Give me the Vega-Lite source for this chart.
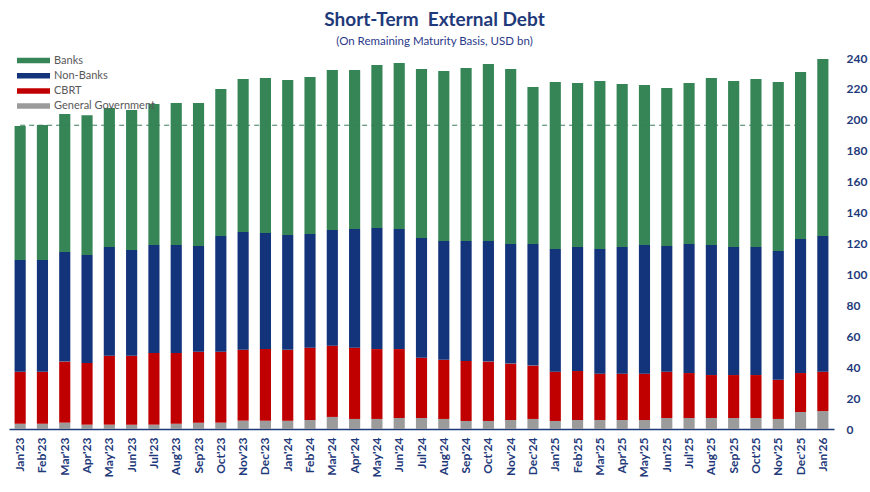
{
  "$schema": "https://vega.github.io/schema/vega-lite/v6.json",
  "autosize": {"type": "none"},
  "padding": {"left": 9, "top": 58, "right": 36, "bottom": 63},
  "width": 825,
  "height": 371,
  "background": "white",
  "title": {
    "text": "Short-Term\u00a0 External Debt",
    "subtitle": "(On Remaining Maturity Basis, USD bn)",
    "anchor": "middle",
    "frame": "group",
    "dx": 13,
    "offset": 5,
    "font": "Lato",
    "fontSize": 19,
    "fontWeight": "bold",
    "color": "#1F3A7A",
    "subtitleFont": "Lato",
    "subtitleFontSize": 11.5,
    "subtitleColor": "#2B3A8A",
    "subtitlePadding": 6
  },
  "config": {
    "view": {"stroke": null},
    "font": "Lato",
    "axisX": {
      "title": null,
      "labelAngle": -90,
      "labelFont": "Lato",
      "labelFontSize": 12,
      "labelFontWeight": "bold",
      "labelColor": "#1F3A7A",
      "labelPadding": 8,
      "labelOverlap": false,
      "ticks": false,
      "domainColor": "#1F3A7A",
      "domainWidth": 1.5
    },
    "axisY": {
      "title": null,
      "grid": false,
      "domain": false,
      "ticks": false,
      "labelOverlap": false,
      "labelFont": "Lato",
      "labelFontSize": 12,
      "labelFontWeight": "bold",
      "labelColor": "#1F3A7A",
      "labelPadding": 12,
      "labelAlign": "left"
    }
  },
  "layer": [
    {
      "data": {
        "values": [
          {"month": "Jan'23", "Banks": 86.7, "Non-Banks": 72.2, "CBRT": 33.7, "General Government": 3.4},
          {"month": "Feb'23", "Banks": 87.3, "Non-Banks": 72.2, "CBRT": 33.7, "General Government": 3.4},
          {"month": "Mar'23", "Banks": 89.2, "Non-Banks": 70.9, "CBRT": 39.5, "General Government": 4.1},
          {"month": "Apr'23", "Banks": 90.5, "Non-Banks": 69.8, "CBRT": 39.9, "General Government": 2.8},
          {"month": "May'23", "Banks": 89.9, "Non-Banks": 70.3, "CBRT": 44.6, "General Government": 2.8},
          {"month": "Jun'23", "Banks": 90.5, "Non-Banks": 68.4, "CBRT": 44.6, "General Government": 2.8},
          {"month": "Jul'23", "Banks": 91.2, "Non-Banks": 69.8, "CBRT": 46.4, "General Government": 2.8},
          {"month": "Aug'23", "Banks": 91.9, "Non-Banks": 69.8, "CBRT": 45.8, "General Government": 3.4},
          {"month": "Sep'23", "Banks": 92.5, "Non-Banks": 68.4, "CBRT": 45.9, "General Government": 4.1},
          {"month": "Oct'23", "Banks": 95.1, "Non-Banks": 74.8, "CBRT": 45.9, "General Government": 4.1},
          {"month": "Nov'23", "Banks": 99.0, "Non-Banks": 76.1, "CBRT": 45.9, "General Government": 5.4},
          {"month": "Dec'23", "Banks": 100.2, "Non-Banks": 75.1, "CBRT": 46.3, "General Government": 5.4},
          {"month": "Jan'24", "Banks": 100.2, "Non-Banks": 74.3, "CBRT": 45.9, "General Government": 5.3},
          {"month": "Feb'24", "Banks": 101.6, "Non-Banks": 73.5, "CBRT": 46.8, "General Government": 5.8},
          {"month": "Mar'24", "Banks": 103.5, "Non-Banks": 74.8, "CBRT": 46.1, "General Government": 7.8},
          {"month": "Apr'24", "Banks": 102.8, "Non-Banks": 76.8, "CBRT": 46.1, "General Government": 6.5},
          {"month": "May'24", "Banks": 105.4, "Non-Banks": 78.3, "CBRT": 45.2, "General Government": 6.5},
          {"month": "Jun'24", "Banks": 107.3, "Non-Banks": 77.7, "CBRT": 44.6, "General Government": 7.1},
          {"month": "Jul'24", "Banks": 109.4, "Non-Banks": 77.4, "CBRT": 39.0, "General Government": 7.1},
          {"month": "Aug'24", "Banks": 110.0, "Non-Banks": 76.8, "CBRT": 38.3, "General Government": 6.5},
          {"month": "Sep'24", "Banks": 111.9, "Non-Banks": 77.6, "CBRT": 38.8, "General Government": 5.2},
          {"month": "Oct'24", "Banks": 114.5, "Non-Banks": 78.0, "CBRT": 38.4, "General Government": 5.2},
          {"month": "Nov'24", "Banks": 113.2, "Non-Banks": 77.4, "CBRT": 36.5, "General Government": 5.8},
          {"month": "Dec'24", "Banks": 101.5, "Non-Banks": 78.7, "CBRT": 34.5, "General Government": 6.5},
          {"month": "Jan'25", "Banks": 108.0, "Non-Banks": 79.3, "CBRT": 31.9, "General Government": 5.2},
          {"month": "Feb'25", "Banks": 106.1, "Non-Banks": 80.2, "CBRT": 31.7, "General Government": 5.8},
          {"month": "Mar'25", "Banks": 108.7, "Non-Banks": 80.6, "CBRT": 30.0, "General Government": 5.8},
          {"month": "Apr'25", "Banks": 105.5, "Non-Banks": 81.9, "CBRT": 30.0, "General Government": 5.8},
          {"month": "May'25", "Banks": 103.5, "Non-Banks": 83.2, "CBRT": 30.0, "General Government": 5.8},
          {"month": "Jun'25", "Banks": 102.2, "Non-Banks": 81.3, "CBRT": 30.0, "General Government": 7.1},
          {"month": "Jul'25", "Banks": 104.1, "Non-Banks": 83.5, "CBRT": 29.1, "General Government": 7.1},
          {"month": "Aug'25", "Banks": 108.0, "Non-Banks": 84.1, "CBRT": 27.8, "General Government": 7.1},
          {"month": "Sep'25", "Banks": 107.4, "Non-Banks": 82.8, "CBRT": 27.8, "General Government": 7.1},
          {"month": "Oct'25", "Banks": 108.7, "Non-Banks": 82.8, "CBRT": 27.8, "General Government": 7.1},
          {"month": "Nov'25", "Banks": 109.3, "Non-Banks": 83.2, "CBRT": 25.4, "General Government": 6.5},
          {"month": "Dec'25", "Banks": 108.0, "Non-Banks": 86.7, "CBRT": 25.2, "General Government": 11.0},
          {"month": "Jan'26", "Banks": 114.5, "Non-Banks": 87.7, "CBRT": 25.5, "General Government": 11.6}
        ]
      },
      "transform": [
        {"fold": ["General Government", "CBRT", "Non-Banks", "Banks"], "as": ["series", "value"]},
        {"window": [{"op": "row_number", "as": "stackOrder"}], "groupby": ["month"]}
      ],
      "mark": {"type": "bar"},
      "encoding": {
        "x": {
          "field": "month",
          "type": "ordinal",
          "sort": null,
          "scale": {
            "domain": ["Jan'23", "Feb'23", "Mar'23", "Apr'23", "May'23", "Jun'23", "Jul'23", "Aug'23", "Sep'23", "Oct'23", "Nov'23", "Dec'23", "Jan'24", "Feb'24", "Mar'24", "Apr'24", "May'24", "Jun'24", "Jul'24", "Aug'24", "Sep'24", "Oct'24", "Nov'24", "Dec'24", "Jan'25", "Feb'25", "Mar'25", "Apr'25", "May'25", "Jun'25", "Jul'25", "Aug'25", "Sep'25", "Oct'25", "Nov'25", "Dec'25", "Jan'26"],
            "paddingInner": 0.5,
            "paddingOuter": 0.25
          }
        },
        "y": {
          "field": "value",
          "type": "quantitative",
          "stack": "zero",
          "scale": {"domain": [0, 240], "nice": false},
          "axis": {
            "orient": "right",
            "values": [0, 20, 40, 60, 80, 100, 120, 140, 160, 180, 200, 220, 240]
          }
        },
        "color": {
          "field": "series",
          "type": "nominal",
          "scale": {
            "domain": ["Banks", "Non-Banks", "CBRT", "General Government"],
            "range": ["#358556", "#13347A", "#C00000", "#9B9B9B"]
          },
          "legend": {
            "title": null,
            "orient": "none",
            "legendX": 8,
            "legendY": -3,
            "symbolType": "M -1 -0.5 L 5 -0.5 L 5 0.5 L -1 0.5 Z",
            "symbolSize": 121,
            "symbolStrokeWidth": 0,
            "labelOffset": 26,
            "labelFont": "Lato",
            "labelFontSize": 11,
            "labelColor": "#595959",
            "rowPadding": 3.2,
            "padding": 0
          }
        },
        "order": {"field": "stackOrder", "type": "quantitative", "sort": "ascending"}
      }
    },
    {
      "data": {"values": [{"from": "Jan'23", "to": "Dec'25", "level": 196.5}]},
      "mark": {"type": "rule", "color": "#3A7F5A", "strokeDash": [5, 4], "strokeWidth": 1},
      "encoding": {
        "x": {"field": "from", "type": "ordinal"},
        "x2": {"field": "to"},
        "y": {
          "field": "level",
          "type": "quantitative",
          "axis": {
            "orient": "right",
            "values": [0, 20, 40, 60, 80, 100, 120, 140, 160, 180, 200, 220, 240]
          }
        }
      }
    }
  ]
}
